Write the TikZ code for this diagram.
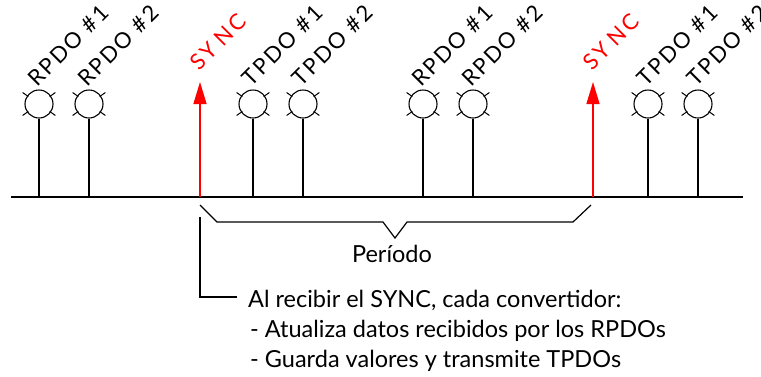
\documentclass[tikz,border=0pt]{standalone}
\usepackage{fontspec}
\setmainfont{Lato}
\usetikzlibrary{arrows.meta,calc}
\definecolor{syncred}{RGB}{255,0,0}
\begin{document}
\begin{tikzpicture}[x=1pt,y=-1pt,
  lamp/.style={draw,circle,minimum size=28pt,inner sep=0pt,line width=1.1pt},
  wire/.style={line width=1.2pt},
  lbl/.style={rotate=45,anchor=base west,inner sep=0pt,font=\fontsize{22}{26}\selectfont\addfontfeature{LetterSpace=10}},
  synclbl/.style={lbl,text=syncred,font=\fontsize{22}{26}\selectfont\addfontfeature{LetterSpace=16}},
  syncarrow/.style={draw=syncred,line width=1.3pt,-{Triangle[length=22pt,width=13pt]}},
  txt/.style={anchor=base west,inner sep=0pt,font=\fontsize{23.5}{30}\selectfont}
]
\useasboundingbox[fill=white] (0,0) rectangle (761,376);
% base line
\coordinate (bl) at (11,197);
\coordinate (br) at (743,197);
\draw[wire] (bl) -- (br);
% lamps
\foreach \n/\x/\t in {ra/39/RPDO \#1, rb/89/RPDO \#2, ta/253/T\kern3pt PDO \#1, tb/303/T\kern3pt PDO \#2,
                      rc/423/RPDO \#1, rd/473/RPDO \#2, tc/648/T\kern3pt PDO \#1, td/698/T\kern3pt PDO \#2}{
  \node[lamp] (\n) at (\x,104) {};
  \foreach \a in {35,145,215,325}
    \draw[line width=1pt] ($(\n)+(\a:13)$) -- ($(\n)+(\a:20)$);
  \draw[wire] (\n.south) -- (\n |- bl);
  \node[lbl] (\n l) at ($(\n)+(-2,-16)$) {\t};
}
% sync arrows
\foreach \n/\x in {sa/200, sb/593}{
  \coordinate (\n) at (\x,197);
  \coordinate (\n t) at (\x,82);
  \draw[syncarrow] (\n) -- (\n t);
  \node[synclbl] (\n l) at ($(\n t)+(-1,-10)$) {SY\kern5pt NC};
}
% period brace
\draw[wire] ($(sa)+(0,8)$) -- ++(17,17) -- (383,222) -- (395,238) -- (407,222) -- (573,222) -- ($(sb)+(-2,8)$);
\node[anchor=base,inner sep=0pt,font=\fontsize{23.5}{30}\selectfont] (per) at (392,262) {Período};
% description
\node[txt] (al) at (248,307) {Al recibir el SYNC, cada convertidor:};
\node[txt] (l1) at (250,337) {- Atualiza datos recibidos por los RPDOs};
\node[txt] (l2) at (250,367) {- Guarda valores y transmite TPDOs};
\draw[wire] ($(sa)+(0,20)$) |- ([shift={(-11pt,10pt)}]al.base west);
\end{tikzpicture}
\end{document}
